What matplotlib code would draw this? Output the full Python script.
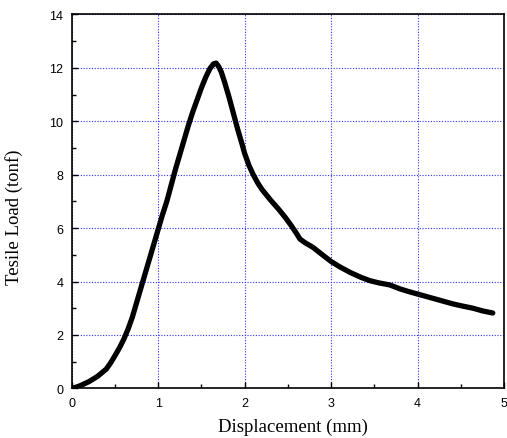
import numpy as np
import matplotlib
matplotlib.use("Agg")
from matplotlib import pyplot as plt
from matplotlib.ticker import MultipleLocator

# displacement [mm] and tensile load [tonf]
disp = [0.0, 0.05, 0.1, 0.2, 0.3, 0.4, 0.45, 0.5, 0.55, 0.6, 0.65, 0.7, 0.75,
        0.8, 0.85, 0.9, 0.95, 1.0, 1.05, 1.1, 1.15, 1.2, 1.25, 1.3, 1.35, 1.4,
        1.45, 1.5, 1.55, 1.6, 1.64, 1.67, 1.7, 1.73, 1.77, 1.82, 1.87, 1.92,
        1.97, 2.0, 2.05, 2.1, 2.15, 2.2, 2.3, 2.39, 2.47, 2.54, 2.6, 2.64,
        2.7, 2.79, 2.9, 3.0, 3.1, 3.22, 3.35, 3.45, 3.55, 3.68, 3.8, 3.9,
        4.0, 4.2, 4.41, 4.52, 4.64, 4.75, 4.87]
load = [0.0, 0.04, 0.1, 0.25, 0.45, 0.72, 0.95, 1.22, 1.5, 1.82, 2.2, 2.65,
        3.2, 3.75, 4.3, 4.85, 5.4, 5.95, 6.5, 7.0, 7.6, 8.2, 8.75, 9.3, 9.85,
        10.35, 10.8, 11.25, 11.65, 11.98, 12.15, 12.18, 12.05, 11.85, 11.45,
        10.9, 10.3, 9.7, 9.15, 8.8, 8.35, 8.0, 7.7, 7.45, 7.05, 6.72, 6.4,
        6.09, 5.8, 5.59, 5.45, 5.28, 5.0, 4.75, 4.55, 4.34, 4.15, 4.03, 3.95,
        3.87, 3.72, 3.62, 3.53, 3.35, 3.16, 3.08, 3.0, 2.9, 2.82]

fig = plt.figure(figsize=(5.07, 4.39), dpi=100)
ax = fig.add_axes([0.1414, 0.1132, 0.8527, 0.8515])

ax.plot(disp, load, color='k', lw=3.8, solid_capstyle='round',
        solid_joinstyle='round', zorder=3)

ax.set_xlim(0, 5)
ax.set_ylim(0, 14)
ax.xaxis.set_major_locator(MultipleLocator(1))
ax.xaxis.set_minor_locator(MultipleLocator(0.5))
ax.yaxis.set_major_locator(MultipleLocator(2))
ax.yaxis.set_minor_locator(MultipleLocator(1))
ax.tick_params(which='both', direction='in', top=False, right=False,
               labelsize=9, width=1.0)
ax.tick_params(which='major', length=4, pad=6)
ax.tick_params(which='minor', length=3)
for lab in ax.get_xticklabels() + ax.get_yticklabels():
    lab.set_family('Liberation Sans')

ax.grid(True, which='major', color='#3030ff', linestyle=(0, (1, 1.5)), linewidth=0.8)
for s in ax.spines.values():
    s.set_linewidth(1.2)

ax.set_xlabel("Displacement (mm)", family='Liberation Serif', fontsize=13.5, va='center')
ax.xaxis.set_label_coords(0.512, -0.101)
ax.set_ylabel("Tesile Load (tonf)", family='Liberation Serif', fontsize=13.5, va='center')
ax.yaxis.set_label_coords(-0.1335, 0.461)

fig.savefig("out.png", dpi=100)
